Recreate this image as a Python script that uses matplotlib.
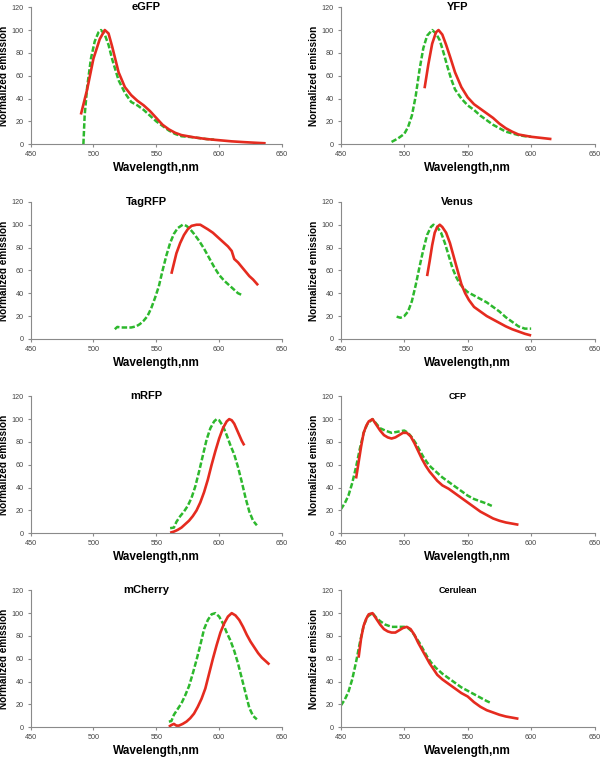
import matplotlib
matplotlib.use("Agg")
import matplotlib.pyplot as plt

plt.rcParams["font.family"] = ["Liberation Sans", "DejaVu Sans"]

# Emission spectra (wavelength nm, normalized emission)
# red = solid curve, green = dashed curve
egfp_red_wl = [490, 495, 500, 505, 509, 512, 515, 520, 525, 530, 535, 540, 545, 550, 555, 560, 565, 570, 580, 590, 600, 610, 620, 630, 637]
egfp_red_em = [26, 48, 75, 92, 100, 97, 85, 63, 50, 43, 38, 34, 29, 23, 17, 13, 10, 8, 6, 4.5, 3.5, 2.5, 1.8, 1.2, 0.8]
egfp_grn_wl = [492, 493, 495, 498, 501, 504, 506, 509, 512, 515, 520, 525, 530, 535, 540, 545, 550, 555, 560, 565, 570, 580, 590, 596]
egfp_grn_em = [0, 25, 50, 75, 90, 98, 100, 96, 87, 74, 56, 45, 37, 34, 30, 25, 20, 16, 12, 9, 7, 6, 4.5, 4]

yfp_red_wl = [516, 519, 522, 525, 527, 530, 533, 536, 540, 545, 550, 555, 560, 565, 570, 575, 580, 585, 590, 595, 600, 608, 616]
yfp_red_em = [49, 70, 88, 98, 100, 96, 87, 77, 63, 50, 41, 35, 31, 27, 23, 18, 14, 11, 8.5, 7.5, 6.5, 5.5, 4.5]
yfp_grn_wl = [490, 495, 500, 503, 506, 509, 512, 515, 518, 522, 525, 528, 531, 534, 537, 540, 545, 550, 555, 560, 565, 570, 575, 580, 585, 590, 595, 600]
yfp_grn_em = [2, 5, 9, 15, 25, 42, 65, 84, 95, 100, 97, 91, 80, 68, 57, 48, 40, 34, 30, 25, 21, 17, 14, 11, 9.5, 8, 7, 6.5]

tagrfp_red_wl = [562, 564, 566, 569, 572, 575, 578, 582, 585, 588, 591, 595, 598, 601, 604, 607, 610, 612, 615, 618, 621, 624, 627, 631]
tagrfp_red_em = [57, 66, 75, 84, 91, 96, 99, 100, 100, 98, 96, 93, 90, 87, 84, 81, 77, 70, 67, 63, 59, 55, 52, 47]
tagrfp_grn_wl = [517, 519, 522, 526, 530, 534, 537, 540, 543, 546, 549, 552, 555, 558, 561, 564, 567, 571, 574, 577, 580, 584, 588, 592, 596, 600, 604, 608, 612, 615, 619]
tagrfp_grn_em = [8.5, 10.5, 10, 10, 10, 11, 13, 16, 20, 27, 36, 46, 60, 73, 84, 92, 97, 100, 99, 96, 92, 86, 79, 71, 63, 56, 51, 47, 43, 40, 38]

venus_red_wl = [518, 520, 522, 524, 526, 528, 530, 533, 536, 539, 542, 545, 548, 551, 555, 560, 565, 570, 575, 580, 585, 590, 595, 600]
venus_red_em = [55, 68, 82, 93, 98, 100, 98, 93, 84, 72, 60, 48, 40, 34, 28, 24, 20, 17, 14, 11, 8.5, 6.5, 4.5, 3]
venus_grn_wl = [494, 497, 500, 503, 506, 509, 512, 515, 518, 521, 523, 526, 529, 532, 535, 538, 541, 544, 547, 550, 555, 560, 565, 570, 575, 580, 585, 590, 595, 600]
venus_grn_em = [19.5, 18.5, 20, 24, 33, 47, 63, 78, 91, 98, 100, 98, 93, 84, 73, 62, 54, 48, 44, 41, 38, 35, 32, 28, 24, 19, 15, 11, 9, 9]

mrfp_red_wl = [561, 564, 567, 570, 573, 576, 579, 582, 585, 588, 591, 594, 597, 600, 603, 606, 608, 610, 612, 614, 616, 618, 620]
mrfp_red_em = [0.5, 1.5, 3, 5, 8, 11, 15, 20, 27, 36, 47, 60, 72, 83, 92, 98, 100, 99, 96, 91, 86, 81, 77]
mrfp_grn_wl = [561, 564, 566, 569, 572, 575, 578, 581, 584, 587, 590, 593, 596, 598, 600, 603, 606, 609, 612, 615, 618, 621, 624, 627, 630]
mrfp_grn_em = [4.5, 5, 10, 15, 19, 24, 31, 41, 54, 68, 82, 92, 98, 100, 99, 94, 86, 77, 69, 58, 45, 31, 19, 11, 7]

cfp_red_wl = [462, 464, 466, 468, 470, 472, 475, 478, 481, 484, 487, 490, 493, 496, 499, 502, 505, 508, 511, 514, 517, 520, 523, 526, 530, 535, 540, 545, 550, 555, 560, 565, 570, 575, 580, 585, 590]
cfp_red_em = [48, 62, 76, 88, 94, 98, 100, 95, 90, 86, 84, 83, 84, 86, 88, 88, 85, 79, 72, 65, 59, 54, 50, 46, 42, 39, 35, 31, 27, 23, 19, 16, 13, 11, 9.5, 8.5, 7.5]
cfp_grn_wl = [450, 453, 456, 459, 462, 465, 468, 471, 475, 478, 481, 485, 490, 495, 500, 503, 506, 509, 512, 515, 518, 521, 525, 530, 535, 540, 545, 550, 555, 560, 565, 569]
cfp_grn_em = [21, 26, 33, 44, 58, 74, 88, 96, 100, 96, 92, 90, 88, 89, 90, 88, 84, 79, 73, 67, 62, 58, 54, 49, 45, 41, 37, 33, 30, 28, 26, 24]

mcherry_red_wl = [560, 562, 564, 566, 568, 571, 574, 577, 580, 583, 586, 589, 592, 595, 598, 601, 604, 607, 610, 613, 616, 619, 622, 625, 628, 631, 634, 637, 640]
mcherry_red_em = [0.5, 2, 3, 1.5, 1.5, 3, 5, 8, 12, 18, 25, 34, 47, 60, 72, 83, 91, 97, 100, 98, 94, 88, 81, 75, 70, 65, 61, 58, 55]
mcherry_grn_wl = [560, 562, 564, 567, 570, 573, 576, 579, 582, 585, 588, 591, 594, 597, 600, 603, 606, 609, 612, 615, 618, 621, 624, 627, 630]
mcherry_grn_em = [5, 5.5, 11, 16, 21, 28, 36, 47, 59, 72, 86, 94, 99, 100, 97, 91, 83, 76, 67, 56, 43, 30, 17, 10, 7]

cerulean_red_wl = [464, 466, 468, 470, 472, 475, 478, 481, 484, 487, 490, 493, 496, 499, 502, 505, 508, 511, 514, 517, 520, 523, 526, 530, 535, 540, 545, 550, 555, 560, 565, 570, 575, 580, 585, 590]
cerulean_red_em = [61, 78, 89, 95, 99, 100, 95, 90, 86, 84, 83, 83, 85, 87, 88, 86, 81, 74, 68, 62, 56, 51, 46, 42, 38, 34, 30, 27, 22, 18, 15, 13, 11, 9.5, 8.5, 7.5]
cerulean_grn_wl = [450, 453, 456, 459, 462, 465, 468, 471, 475, 478, 481, 485, 490, 495, 500, 503, 506, 509, 512, 515, 518, 521, 525, 530, 535, 540, 545, 550, 555, 560, 565, 569]
cerulean_grn_em = [19, 24, 31, 42, 57, 74, 89, 97, 100, 96, 93, 90, 88, 88, 88, 87, 84, 79, 74, 68, 62, 57, 52, 47, 43, 39, 35, 32, 29, 26, 23, 21]

titles = ["eGFP", "YFP", "TagRFP", "Venus", "mRFP", "CFP", "mCherry", "Cerulean"]
title_sizes = [8, 8, 8, 8, 8, 6.5, 8, 6.5]
red_wl = [egfp_red_wl, yfp_red_wl, tagrfp_red_wl, venus_red_wl, mrfp_red_wl, cfp_red_wl, mcherry_red_wl, cerulean_red_wl]
red_em = [egfp_red_em, yfp_red_em, tagrfp_red_em, venus_red_em, mrfp_red_em, cfp_red_em, mcherry_red_em, cerulean_red_em]
grn_wl = [egfp_grn_wl, yfp_grn_wl, tagrfp_grn_wl, venus_grn_wl, mrfp_grn_wl, cfp_grn_wl, mcherry_grn_wl, cerulean_grn_wl]
grn_em = [egfp_grn_em, yfp_grn_em, tagrfp_grn_em, venus_grn_em, mrfp_grn_em, cfp_grn_em, mcherry_grn_em, cerulean_grn_em]

xticks = [450, 500, 550, 600, 650]
yticks = [0, 20, 40, 60, 80, 100, 120]

RED = "#e52b1f"
GREEN = "#2db82d"
AXIS_GRAY = "#8a8a8a"

fig = plt.figure(figsize=(6.0, 7.57), dpi=100)

col_left = [0.051, 0.568]
col_width = [0.419, 0.423]
row_bottom = [0.8095, 0.5523, 0.2955, 0.0392]
row_height = 0.181

for i, name in enumerate(titles):
    r, c = divmod(i, 2)
    ax = fig.add_axes([col_left[c], row_bottom[r], col_width[c], row_height])

    ax.plot(grn_wl[i], grn_em[i], color=GREEN, lw=1.8, dashes=(2.2, 0.9))
    ax.plot(red_wl[i], red_em[i], color=RED, lw=1.9, solid_capstyle="butt")

    ax.set_xlim(450, 650)
    ax.set_ylim(0, 120)
    ax.set_xticks(xticks)
    ax.set_yticks(yticks)

    for side in ["top", "right"]:
        ax.spines[side].set_visible(False)
    for side in ["left", "bottom"]:
        ax.spines[side].set_color(AXIS_GRAY)
        ax.spines[side].set_linewidth(0.8)
    ax.tick_params(colors=AXIS_GRAY, labelcolor="#444444", labelsize=5.2,
                   length=2.5, width=0.8, pad=2.5)

    ax.set_xlabel("Wavelength,nm", fontsize=8.5, fontweight="bold", labelpad=3)
    ax.set_ylabel("Normalized emission", fontsize=7.2, fontweight="bold")
    ax.yaxis.set_label_coords(-0.085, 0.5)

    ax.text(0.46, 1.0, name, transform=ax.transAxes, ha="center", va="center",
            fontsize=title_sizes[i], fontweight="bold")

fig.savefig("out.png", dpi=100)
